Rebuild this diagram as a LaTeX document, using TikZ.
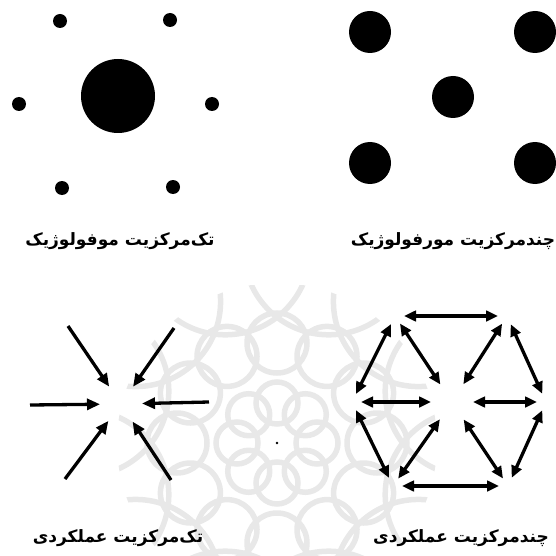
\documentclass[tikz,border=0pt]{standalone}
\usepackage{fontspec}
\newfontfamily\fa[Script=Arabic]{DejaVu Sans}
\TeXXeTstate=1
\usetikzlibrary{arrows.meta}
\begin{document}
\begin{tikzpicture}[x=1pt,y=-1pt,
  dot/.style={circle,fill=black,inner sep=0pt,minimum size=#1},
  ar/.style={line width=3.3pt,-{Triangle[length=13pt,width=11pt]}},
  dar/.style={line width=3.3pt,{Triangle[length=12pt,width=10.5pt]}-{Triangle[length=12pt,width=10.5pt]}},
  lab/.style={font=\fa\bfseries\fontsize{17}{20}\selectfont,inner sep=0pt},
  wm/.style={draw=black!9,line width=5.5pt}]
\useasboundingbox (0,0) rectangle (555,556);
% faint watermark
\coordinate (W) at (277,443);
\begin{scope}
\clip (0,285) rectangle (555,556);
\foreach \a in {0,45,...,315} \draw[wm] ([shift={(\a:40)}]W) circle (21);
\foreach \a in {0,30,...,330} \draw[wm] ([shift={(\a:100)}]W) circle (30);
\begin{scope}
\clip (W) circle (160);
\foreach \a in {15,45,...,345} \draw[wm] ([shift={(\a:200)}]W) circle (85);
\end{scope}
\end{scope}
\fill (W) circle (1.4);
% top-left: mono-centric morphologic
\node[dot=74pt] (big) at (118,96) {};
\node[dot=14pt] (s1) at (60,21) {};
\node[dot=14pt] (s2) at (170,20) {};
\node[dot=14pt] (s3) at (19,104) {};
\node[dot=14pt] (s4) at (212,104) {};
\node[dot=14pt] (s5) at (62,188) {};
\node[dot=14pt] (s6) at (173,187) {};
% top-right: polycentric morphologic
\node[dot=42pt] (m1) at (370,32) {};
\node[dot=42pt] (m2) at (535,32) {};
\node[dot=42pt] (m3) at (453,97) {};
\node[dot=42pt] (m4) at (370,163) {};
\node[dot=42pt] (m5) at (535,163) {};
% labels
\node[lab] (l1) at (120,241) {\beginR تک‌مرکزیت موفولوژیک\endR};
\node[lab] (l2) at (453,241) {\beginR چندمرکزیت مورفولوژیک\endR};
\node[lab] (l3) at (118,538) {\beginR تک‌مرکزیت عملکردی\endR};
\node[lab] (l4) at (461,538) {\beginR چندمرکزیت عملکردی\endR};
% bottom-left: mono-centric functional
\coordinate (c1) at (121,404);
\coordinate (a1) at (68,326);
\coordinate (a2) at (174,328);
\coordinate (a3) at (30,405);
\coordinate (a4) at (209,402);
\coordinate (a5) at (65,479);
\coordinate (a6) at (171,480);
\foreach \o in {a1,a2,a3,a4,a5,a6} \draw[ar,shorten >=21pt] (\o) -- (c1);
% bottom-right: polycentric functional
\coordinate (TL) at (395,316);
\coordinate (TR) at (507,316);
\coordinate (L) at (352,402);
\coordinate (C) at (452,402);
\coordinate (R) at (546,402);
\coordinate (BL) at (393,486);
\coordinate (BR) at (508,486);
\foreach \p/\q in {TL/TR,TL/L,TR/R,L/BL,R/BR,BL/BR}
  \draw[dar,shorten <=9pt,shorten >=9pt] (\p) -- (\q);
\foreach \p in {TL,TR,L,R,BL,BR}
  \draw[dar,shorten <=9pt,shorten >=21pt] (\p) -- (C);
\end{tikzpicture}
\end{document}
